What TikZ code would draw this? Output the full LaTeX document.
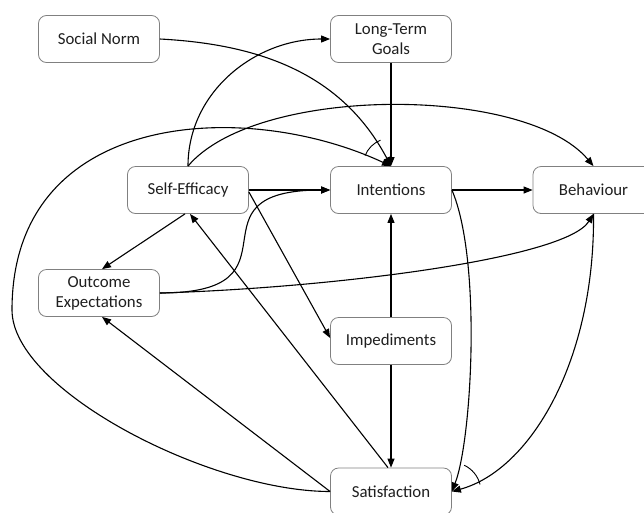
\documentclass[tikz,border=0pt]{standalone}
\usepackage{fontspec}
\setmainfont{Carlito}
\usetikzlibrary{arrows.meta}
\begin{document}
\begin{tikzpicture}[x=1pt,y=1pt,
  box/.style={draw=black!50, line width=0.8pt, rounded corners=8pt, minimum width=121pt, minimum height=47pt, inner sep=0pt, align=center, font=\fontsize{16.8}{20}\selectfont, text=black!88},
  arr/.style={line width=1.1pt, -{Triangle[length=9pt,width=7pt]}},
  ang/.style={line width=0.9pt}]
\useasboundingbox (0,0) rectangle (644,-512);
\clip (0,0) rectangle (644,-512);
\fill[white] (0,0) rectangle (644,-512);
\node[box] (SN) at (99,-39) {Social Norm};
\node[box] (LTG) at (391,-39) {Long-Term\\Goals};
\node[box] (SE) at (188,-190) {Self-Efficacy};
\node[box] (INT) at (391,-190) {Intentions};
\node[box] (BEH) at (593.5,-190) {Behaviour};
\node[box] (OE) at (99,-293) {Outcome\\Expectations};
\node[box] (IMP) at (391,-341) {Impediments};
\node[box] (SAT) at (391,-491.5) {Satisfaction};
\coordinate (loopL) at (12,-310);
% connectors
\draw[arr] (SN.east) to[out=-3,in=118] (INT.north);
\draw[arr] (LTG.south) -- (INT.north);
\draw[arr] (SE.north) to[out=90,in=180] (LTG.west);
\draw[arr] (SE.north) to[out=50,in=130,looseness=0.67] (BEH.north);
\draw[arr] (SAT.west) .. controls +(-120,0) and +(0,-80) .. (loopL) .. controls +(0,200) and (245,-98) .. (INT.north);
\draw[arr] (SE.east) -- (INT.west);
\draw[arr] (INT.east) -- (BEH.west);
\draw[arr] ([xshift=-3pt]SE.south) -- ([xshift=3pt]OE.north);
\draw[arr] ([xshift=-3pt]SAT.north) -- ([xshift=2pt]SE.south);
\draw[arr] (SAT.west) -- ([xshift=3pt]OE.south);
\draw[arr] ([yshift=-2pt]SE.east) -- ([yshift=3pt]IMP.west);
\draw[arr] (IMP.north) -- (INT.south);
\draw[arr] (IMP.south) -- (SAT.north);
\draw[arr] (OE.east) .. controls +(150,0) and +(-150,0) .. (INT.west);
\draw[arr] (OE.east) .. controls +(170,5) and +(-28,-45) .. (BEH.south);
\draw[arr] (INT.east) .. controls +(30,-70) and +(20,51.5) .. (SAT.east);
\draw[arr] (BEH.south) .. controls +(1.5,-147) and +(78.5,21.5) .. (SAT.east);
% angle marks
\draw[ang] ([shift={(158:28)}]INT.north) arc[start angle=158,end angle=112,radius=28];
\draw[ang] ([shift={(65:29)}]SAT.east) arc[start angle=65,end angle=14,radius=29];
\end{tikzpicture}
\end{document}
